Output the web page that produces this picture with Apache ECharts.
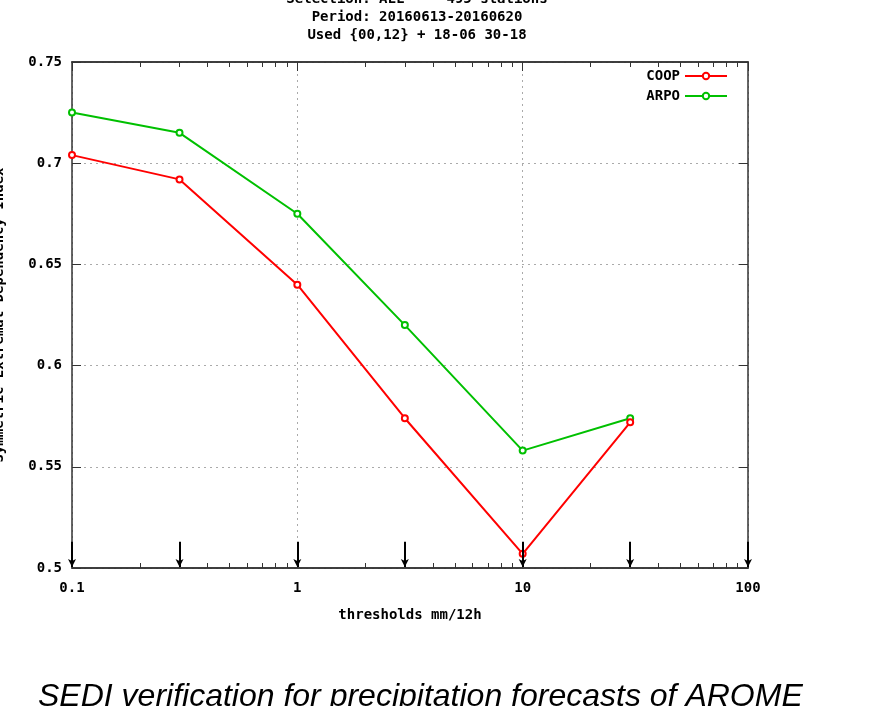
<!DOCTYPE html>
<html>
<head>
<meta charset="utf-8">
<style>
  html, body { margin: 0; padding: 0; background: #fff; }
  #chart { width: 885px; height: 706px; }
</style>
<script src="https://cdn.jsdelivr.net/npm/echarts@6/dist/echarts.min.js"></script>
</head>
<body>
<div id="chart"></div>
<script>
// values
var thresholds = [0.1, 0.3, 1, 3, 10, 30];
var coop = [0.704, 0.692, 0.640, 0.574, 0.507, 0.572];
var arpo = [0.725, 0.715, 0.675, 0.620, 0.558, 0.574];
var arrowAt = [0.1, 0.3, 1, 3, 10, 30, 100];
var majorTicks = [0.1, 1, 10, 100];
var minorTicks = [0.2, 0.3, 0.4, 0.5, 0.6, 0.7, 0.8, 0.9,
                  2, 3, 4, 5, 6, 7, 8, 9,
                  20, 30, 40, 50, 60, 70, 80, 90];
var yTicks = [0.5, 0.55, 0.6, 0.65, 0.7, 0.75];
var titleLines = ['Selection: ALL     495 stations', 'Period: 20160613-20160620', 'Used {00,12} + 18-06 30-18'];

var mono = '"DejaVu Sans Mono", monospace';
var axisCol = '#333';
var fs = 14;

function pairs(ys) {
  var out = [];
  for (var i = 0; i < thresholds.length; i++) out.push([thresholds[i], ys[i]]);
  return out;
}

var arrows = [];
for (var k = 0; k < arrowAt.length; k++) {
  arrows.push([{ coord: [arrowAt[k], 0.513] }, { coord: [arrowAt[k], 0.5005] }]);
}

function xAx(pos, ticks, len, labels) {
  return {
    type: 'log', logBase: 10, min: 0.1, max: 100, position: pos,
    axisLine: { show: true, lineStyle: { color: axisCol, width: 1.5 } },
    axisTick: { show: true, inside: true, length: len, customValues: ticks, lineStyle: { color: axisCol } },
    axisLabel: labels ? {
      show: true, customValues: majorTicks, color: '#000', fontFamily: mono, fontWeight: 'bold', fontSize: fs, margin: 13,
      formatter: function (v) { return String(v); }
    } : { show: false },
    splitLine: { show: false }
  };
}

var chart = echarts.init(document.getElementById('chart'));
chart.setOption({
  backgroundColor: '#fff',
  animation: false,
  title: {
    text: titleLines.join('\n'),
    left: 412, top: -15, textAlign: 'center',
    textStyle: { fontFamily: mono, fontWeight: 'bold', fontSize: fs, lineHeight: 18, color: '#000' }
  },
  grid: { left: 72, right: 137, top: 62, bottom: 138, containLabel: false, outerBoundsMode: 'none' },
  legend: {
    orient: 'vertical', right: 152, top: 64, align: 'right',
    itemWidth: 42, itemHeight: 8, itemGap: 6,
    textStyle: { fontFamily: mono, fontWeight: 'bold', fontSize: fs, color: '#000' },
    data: ['COOP', 'ARPO']
  },
  xAxis: [
    (function () {
      var a = xAx('bottom', majorTicks, 9, true);
      a.name = 'thresholds mm/12h';
      a.nameLocation = 'middle';
      a.nameGap = 40;
      a.nameTextStyle = { fontFamily: mono, fontWeight: 'bold', fontSize: fs, color: '#000' };
      a.splitLine = { show: true, lineStyle: { color: '#aaa', type: [2, 4], width: 1 } };
      return a;
    })(),
    xAx('bottom', minorTicks, 5, false),
    xAx('top', majorTicks, 9, false),
    xAx('top', minorTicks, 5, false)
  ],
  yAxis: [
    {
      type: 'value', min: 0.5, max: 0.75, interval: 0.05, position: 'left',
      name: 'Symmetric Extremal Dependency Index',
      nameLocation: 'middle', nameGap: 66,
      nameTextStyle: { fontFamily: mono, fontWeight: 'bold', fontSize: fs, color: '#000' },
      axisLine: { show: true, lineStyle: { color: axisCol, width: 1.5 } },
      axisTick: { show: true, inside: true, length: 9, lineStyle: { color: axisCol } },
      axisLabel: {
        color: '#000', fontFamily: mono, fontWeight: 'bold', fontSize: fs, margin: 10,
        customValues: yTicks,
        formatter: function (v) { return String(+v.toFixed(2)); }
      },
      splitLine: { show: true, lineStyle: { color: '#aaa', type: [2, 4], width: 1 } }
    },
    {
      type: 'value', min: 0.5, max: 0.75, interval: 0.05, position: 'right',
      axisLine: { show: true, lineStyle: { color: axisCol, width: 1.5 } },
      axisTick: { show: true, inside: true, length: 9, lineStyle: { color: axisCol } },
      axisLabel: { show: false },
      splitLine: { show: false }
    }
  ],
  series: [
    {
      name: 'COOP', type: 'line', data: pairs(coop),
      symbol: 'emptyCircle', symbolSize: 6,
      lineStyle: { color: '#ff0000', width: 2 },
      itemStyle: { color: '#ff0000', borderWidth: 1.5 },
      markLine: {
        silent: true, symbol: ['none', 'arrow'], symbolSize: [6, 8], precision: 4,
        label: { show: false },
        lineStyle: { color: '#000', type: 'solid', width: 2 },
        data: arrows
      },
      z: 3
    },
    {
      name: 'ARPO', type: 'line', data: pairs(arpo),
      symbol: 'emptyCircle', symbolSize: 6,
      lineStyle: { color: '#00c000', width: 2 },
      itemStyle: { color: '#00c000', borderWidth: 1.5 },
      z: 2
    }
  ],
  graphic: [{
    type: 'text', left: 38, top: 681,
    style: {
      text: 'SEDI verification for precipitation forecasts of AROME',
      font: 'italic 32px "Liberation Sans", Arial, sans-serif', fill: '#000'
    }
  }]
});
</script>
</body>
</html>
